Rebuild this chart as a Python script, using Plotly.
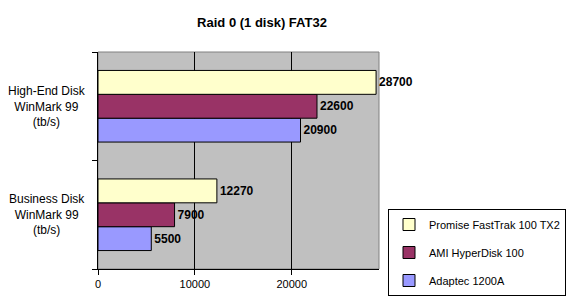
import plotly.graph_objects as go

categories = ["Business Disk<br>WinMark 99<br>(tb/s)", "High-End Disk<br>WinMark 99<br>(tb/s)"]
series_names = ["Promise FastTrak 100 TX2", "AMI HyperDisk 100", "Adaptec 1200A"]
promise = [12270, 28700]
ami = [7900, 22600]
adaptec = [5500, 20900]
colors = ["#FFFFCC", "#993366", "#9999FF"]
x_ticks = [0, 10000, 20000]

FONT = "Arial, Liberation Sans, sans-serif"

fig = go.Figure()
# bottom-to-top within group: Adaptec, AMI, Promise
for name, vals, col, rank in [(series_names[2], adaptec, colors[2], 3),
                              (series_names[1], ami, colors[1], 2),
                              (series_names[0], promise, colors[0], 1)]:
    fig.add_trace(go.Bar(
        y=categories, x=vals, name=name, orientation="h", legendgroup=name,
        legendrank=rank,
        marker=dict(color=col, line=dict(color="black", width=1)),
        text=[str(v) for v in vals], textposition="outside",
        textfont=dict(family=FONT, size=12, color="black", weight="bold"),
        cliponaxis=False,
    ))

for c in categories:
    fig.add_annotation(x=-0.18, xref="paper", y=c, yref="y", text=c,
                       showarrow=False, align="center", xanchor="center",
                       font=dict(family=FONT, size=12, color="black"))

fig.add_shape(type="rect", xref="paper", yref="paper", x0=0, x1=1, y0=0, y1=1,
              line=dict(color="#808080", width=1), layer="below")

fig.update_layout(
    width=566, height=301,
    margin=dict(l=98, r=187, t=52, b=32, autoexpand=False),
    paper_bgcolor="white", plot_bgcolor="#C0C0C0",
    barmode="group", bargap=0.34, bargroupgap=0,
    title=dict(text="<b>Raid 0 (1 disk) FAT32</b>", x=262/566, xanchor="center",
               y=1 - 22/301, yanchor="middle",
               font=dict(family=FONT, size=13, color="black")),
    font=dict(family=FONT, size=11, color="black"),
    legend=dict(x=(388-98)/281, xanchor="left", y=(269-209)/217, yanchor="top",
                traceorder="grouped", bordercolor="black", borderwidth=1,
                bgcolor="white", font=dict(family=FONT, size=11),
                itemwidth=30, tracegroupgap=9),
    xaxis=dict(range=[0, 29000], tickvals=x_ticks, ticktext=[str(t) for t in x_ticks],
               showgrid=True, gridcolor="black", gridwidth=1, zeroline=False,
               showline=True, linecolor="black", linewidth=1,
               ticks="outside", ticklen=5, tickcolor="black",
               tickfont=dict(family=FONT, size=11)),
    yaxis=dict(showticklabels=False, ticks="outside", ticklen=5, tickcolor="black",
               tickson="boundaries", showline=True, linecolor="black", linewidth=1,
               showgrid=False, zeroline=False),
)

fig.write_html("out.html")
